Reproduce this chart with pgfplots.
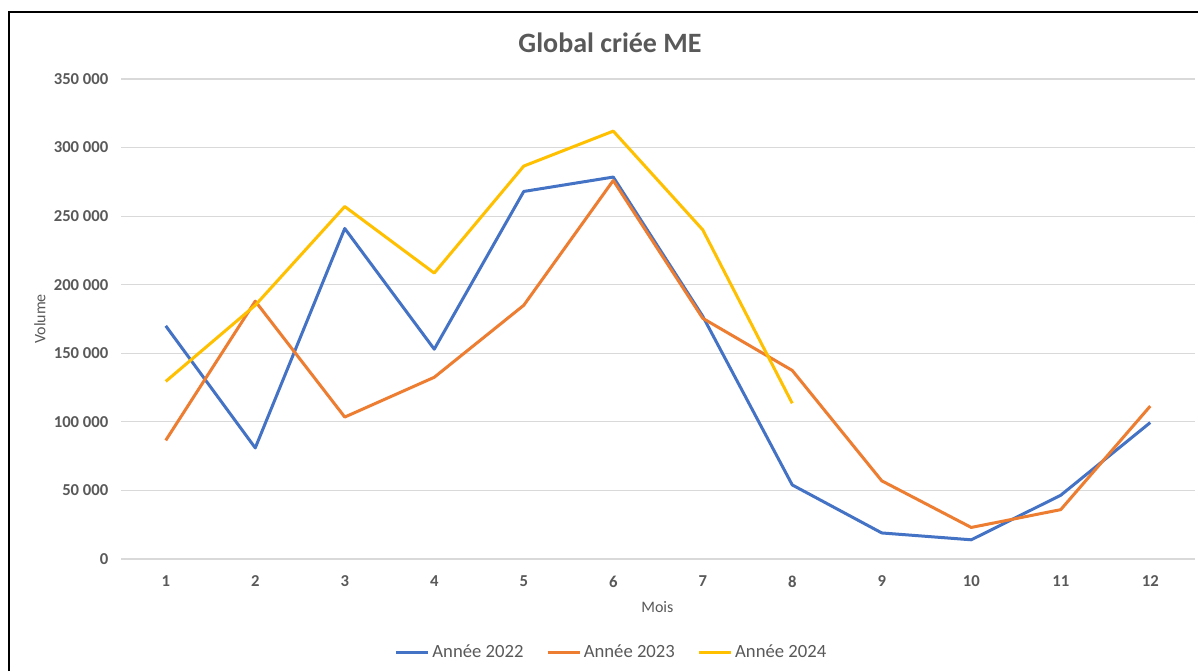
\documentclass[border=0pt]{standalone}
\usepackage{pgfplots}
\pgfplotsset{compat=1.18}
\usepackage{fontspec}
\setmainfont{Carlito}
\definecolor{c22}{HTML}{4472C4}
\definecolor{c23}{HTML}{ED7D31}
\definecolor{c24}{HTML}{FFC000}
\definecolor{txt}{HTML}{595959}
\definecolor{grd}{HTML}{D9D9D9}
\begin{document}
\begin{tikzpicture}
\useasboundingbox (0,0) rectangle (898.5pt,503.25pt);
\fill[white] (0,0) rectangle (898.5pt,503.25pt);
\draw[black,line width=1.5pt] (6.4pt,0) -- (6.4pt,493.9pt) -- (898.5pt,493.9pt);
\begin{axis}[
  at={(90.75pt,84pt)}, anchor=south west,
  scale only axis, width=805.5pt, height=360pt,
  xmin=0.5, xmax=12.5, ymin=0, ymax=350000,
  xtick={1,...,12}, xticklabels={1,2,3,4,5,6,7,8,9,10,11,12},
  ytick={0,50000,100000,150000,200000,250000,300000,350000},
  yticklabels={0,50 000,100 000,150 000,200 000,250 000,300 000,350 000},
  scaled y ticks=false,
  axis line style={draw=none},
  major tick length=0pt,
  ymajorgrids, grid style={grd, line width=0.9pt},
  tick label style={font=\fontsize{12.5}{14}\selectfont\bfseries, text=txt},
  yticklabel style={xshift=-6pt},
  xticklabel style={yshift=-9pt},
  legend columns=3,
  legend style={draw=none, fill=none, at={(0.457,-0.194)}, anchor=center,
    font=\fontsize{14}{16}\selectfont, text=txt,
    /tikz/every even column/.append style={column sep=15pt}},
  legend image code/.code={\draw[#1, line width=2.25pt] (0pt,0pt) -- (24pt,0pt);},
  every axis plot/.append style={line width=2.25pt, line join=round, mark=none},
  clip=false,
]
\addplot[c22] coordinates {(1,170000) (2,81000) (3,241000) (4,153000) (5,268000) (6,278500) (7,177000) (8,54000) (9,19000) (10,14000) (11,46500) (12,99500)};
\addlegendentry{Année 2022}
\addplot[c23] coordinates {(1,86500) (2,188000) (3,103500) (4,132500) (5,185000) (6,276000) (7,175500) (8,137500) (9,57000) (10,23000) (11,36000) (12,111500)};
\addlegendentry{Année 2023}
\addplot[c24] coordinates {(1,129500) (2,185000) (3,257000) (4,208500) (5,286500) (6,312000) (7,240000) (8,113500)};
\addlegendentry{Année 2024}
\end{axis}
\node[font=\fontsize{21}{25}\selectfont\bfseries, text=txt] at (457.5pt,471pt) {Global criée ME};
\node[font=\fontsize{12}{14}\selectfont, text=txt] at (493pt,48pt) {Mois};
\node[font=\fontsize{12}{14}\selectfont, text=txt, rotate=90] at (30pt,264pt) {Volume};
\end{tikzpicture}
\end{document}
